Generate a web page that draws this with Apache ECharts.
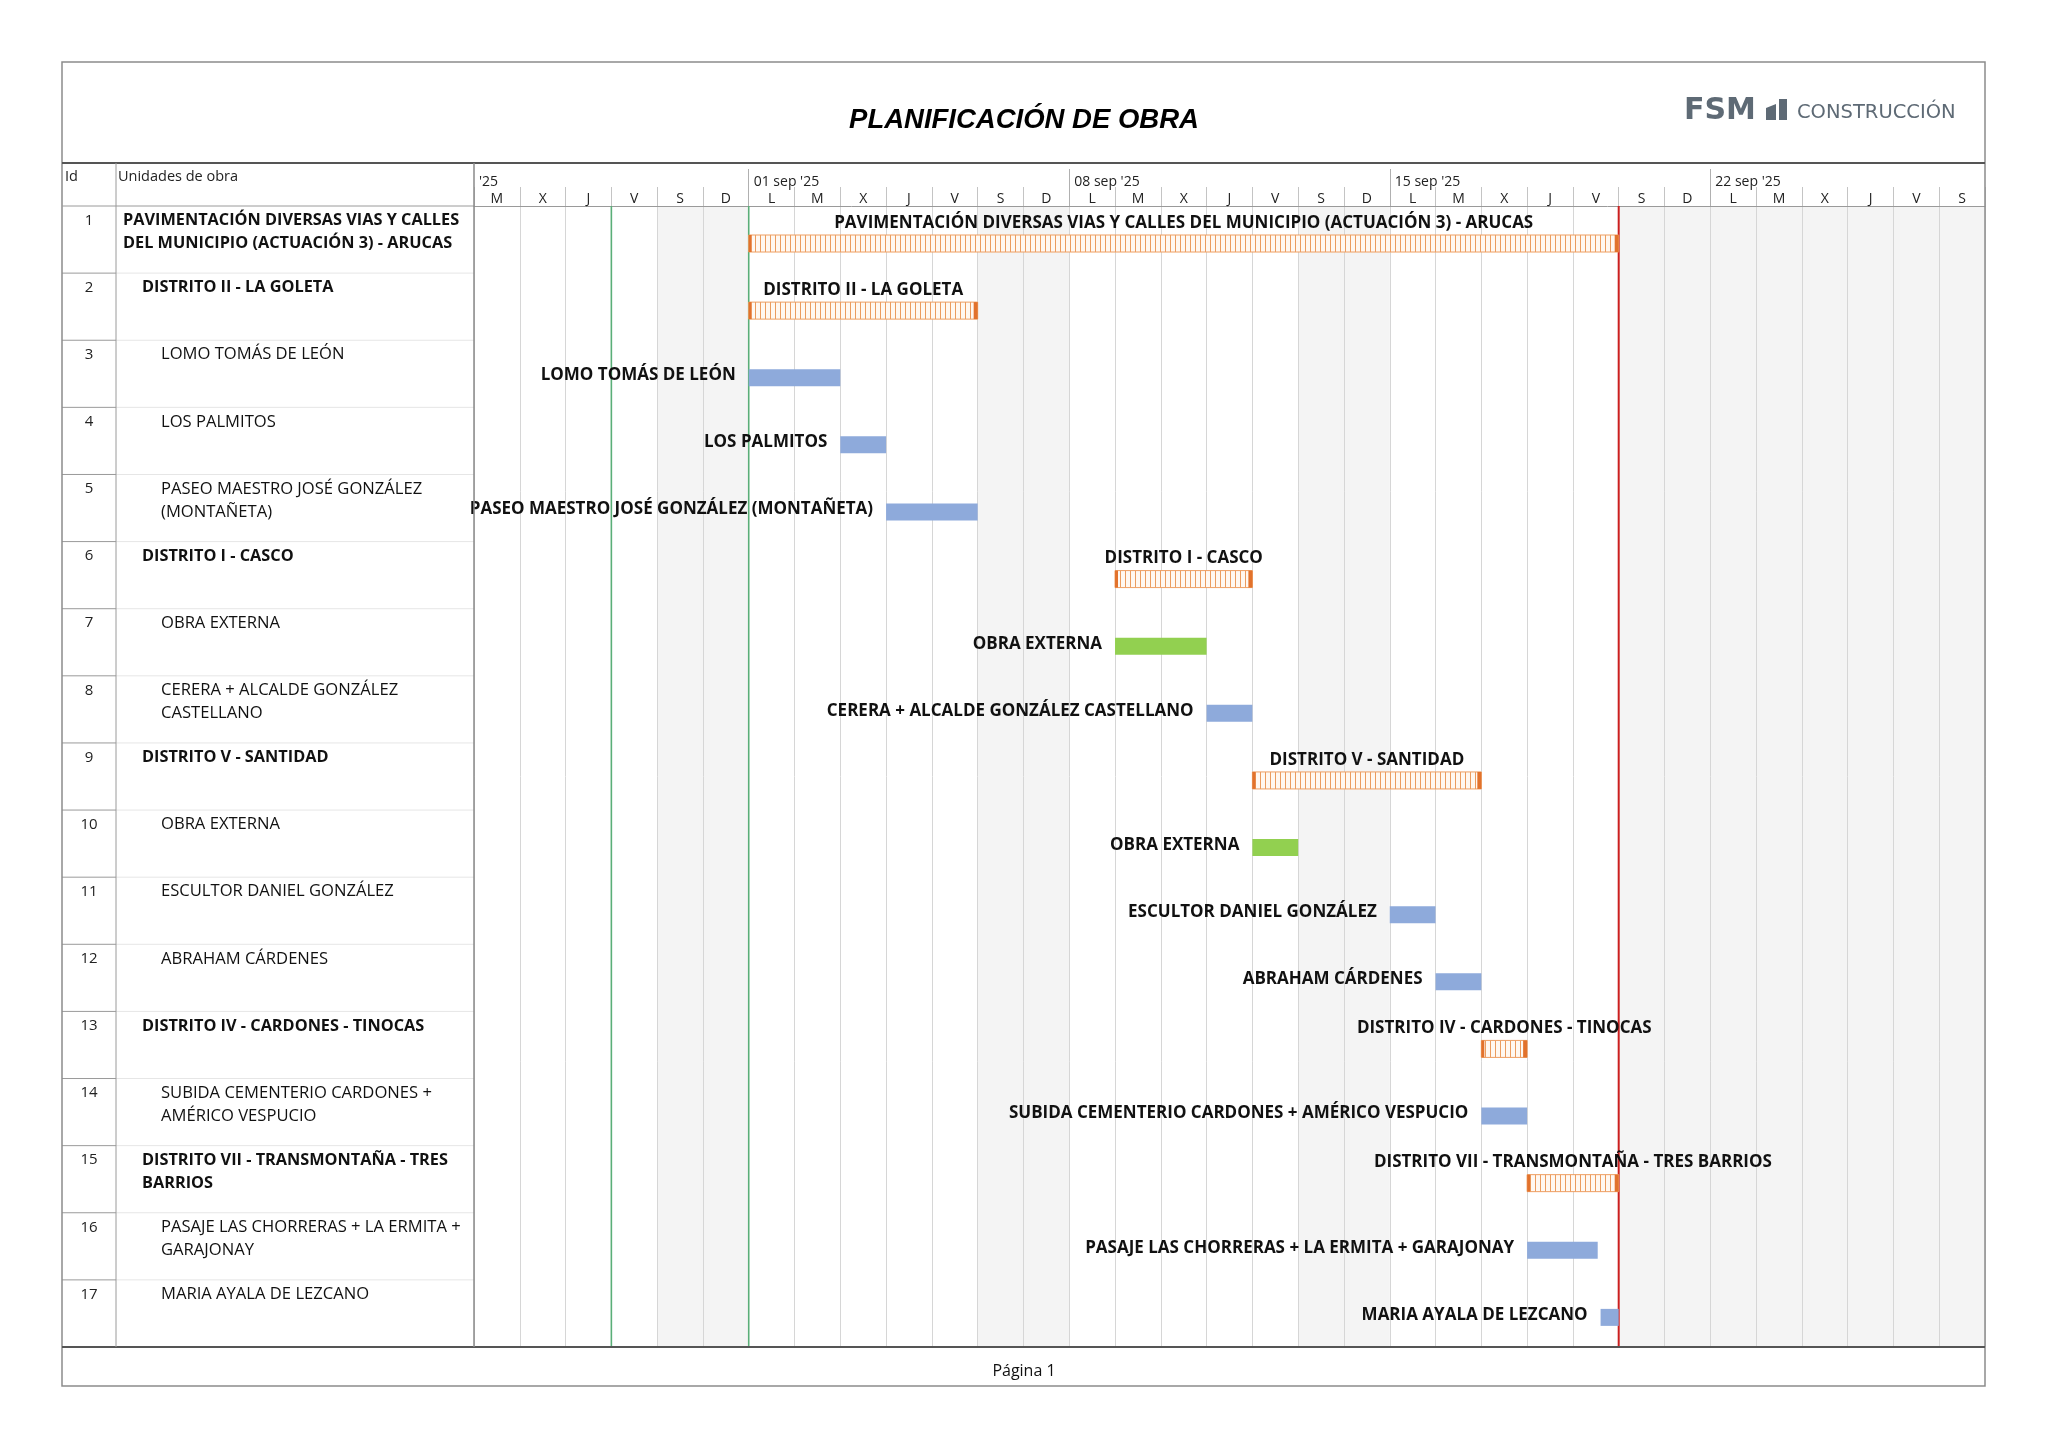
<!DOCTYPE html>
<html><head><meta charset="utf-8">
<script src="https://cdn.jsdelivr.net/npm/echarts@6/dist/echarts.min.js"></script>
<style>html,body{margin:0;padding:0;background:#fff}#c{width:2048px;height:1448px}</style>
</head><body><div id="c"></div>
<script>
// ---------------- DATA ----------------
const taskIds = [1,2,3,4,5,6,7,8,9,10,11,12,13,14,15,16,17];
const taskNames = [
  'PAVIMENTACIÓN DIVERSAS VIAS Y CALLES\nDEL MUNICIPIO (ACTUACIÓN 3) - ARUCAS',
  'DISTRITO II - LA GOLETA',
  'LOMO TOMÁS DE LEÓN',
  'LOS PALMITOS',
  'PASEO MAESTRO JOSÉ GONZÁLEZ\n(MONTAÑETA)',
  'DISTRITO I - CASCO',
  'OBRA EXTERNA',
  'CERERA + ALCALDE GONZÁLEZ\nCASTELLANO',
  'DISTRITO V - SANTIDAD',
  'OBRA EXTERNA',
  'ESCULTOR DANIEL GONZÁLEZ',
  'ABRAHAM CÁRDENES',
  'DISTRITO IV - CARDONES - TINOCAS',
  'SUBIDA CEMENTERIO CARDONES +\nAMÉRICO VESPUCIO',
  'DISTRITO VII - TRANSMONTAÑA - TRES\nBARRIOS',
  'PASAJE LAS CHORRERAS + LA ERMITA +\nGARAJONAY',
  'MARIA AYALA DE LEZCANO'
];
const taskLevels = [0,1,2,2,2,1,2,2,1,2,2,2,1,2,1,2,2];
const taskTypes = ['summary','summary','task','task','task','summary','external','task','summary','external','task','task','summary','task','summary','task','task'];
const taskStarts = ['2025-09-01 00:00','2025-09-01 00:00','2025-09-01 00:00','2025-09-03 00:00','2025-09-04 00:00',
  '2025-09-09 00:00','2025-09-09 00:00','2025-09-11 00:00','2025-09-12 00:00','2025-09-12 00:00',
  '2025-09-15 00:00','2025-09-16 00:00','2025-09-17 00:00','2025-09-17 00:00','2025-09-18 00:00',
  '2025-09-18 00:00','2025-09-19 14:30'];
const taskEnds = ['2025-09-20 00:00','2025-09-06 00:00','2025-09-03 00:00','2025-09-04 00:00','2025-09-06 00:00',
  '2025-09-12 00:00','2025-09-11 00:00','2025-09-12 00:00','2025-09-17 00:00','2025-09-13 00:00',
  '2025-09-16 00:00','2025-09-17 00:00','2025-09-18 00:00','2025-09-18 00:00','2025-09-20 00:00',
  '2025-09-19 13:00','2025-09-20 00:00'];

const timelineStart = '2025-08-26 00:00';
const timelineEnd = '2025-09-28 00:00';
const timelineDays = ['2025-08-26','2025-08-27','2025-08-28','2025-08-29','2025-08-30','2025-08-31',
  '2025-09-01','2025-09-02','2025-09-03','2025-09-04','2025-09-05','2025-09-06','2025-09-07',
  '2025-09-08','2025-09-09','2025-09-10','2025-09-11','2025-09-12','2025-09-13','2025-09-14',
  '2025-09-15','2025-09-16','2025-09-17','2025-09-18','2025-09-19','2025-09-20','2025-09-21',
  '2025-09-22','2025-09-23','2025-09-24','2025-09-25','2025-09-26','2025-09-27'];
const dayLetters = ['M','X','J','V','S','D',
  'L','M','X','J','V','S','D',
  'L','M','X','J','V','S','D',
  'L','M','X','J','V','S','D',
  'L','M','X','J','V','S'];
const weekStarts = ['2025-08-26 00:00','2025-09-01 00:00','2025-09-08 00:00','2025-09-15 00:00','2025-09-22 00:00'];
const weekLabels = ["'25","01 sep '25","08 sep '25","15 sep '25","22 sep '25"];
const weekendDays = ['2025-08-30','2025-08-31','2025-09-06','2025-09-07','2025-09-13','2025-09-14','2025-09-20','2025-09-21','2025-09-27'];
const afterProjectRange = ['2025-09-20 00:00','2025-09-28 00:00'];
const greenLines = ['2025-08-29 00:00','2025-09-01 00:00'];
const redLines = ['2025-09-20 00:00'];

// ---------------- HELPERS ----------------
function ms(s){ const p=s.split(' '); const d=p[0].split('-').map(Number); const t=(p[1]||'00:00').split(':').map(Number); return Date.UTC(d[0],d[1]-1,d[2],t[0],t[1]); }
const T0 = ms(timelineStart);
function dayOf(s){ return (ms(s)-T0)/86400000; }
const XMAX = dayOf(timelineEnd);

const FONT = '"Open Sans", "Noto Sans", sans-serif';
const pat = document.createElement('canvas'); pat.width = 5; pat.height = 4;
(function(){ const g = pat.getContext('2d'); g.fillStyle = '#fff8f1'; g.fillRect(0,0,5,4); g.fillStyle = '#eb9c5e'; g.fillRect(0,0,1,4); })();

const chart = echarts.init(document.getElementById('c'), null, {renderer:'canvas'});

function renderTable(params, api){
  const i = api.value(1);
  const cs = params.coordSys;
  const yc = api.coord([0, i])[1];
  const bh = api.size([0, 1])[1];
  const top = yc - bh/2;
  const summary = taskTypes[i] === 'summary';
  const ch = [
    {type:'text', style:{text:String(taskIds[i]), x:cs.x+27, y:top+7, align:'center', verticalAlign:'top', font:'15px '+FONT, fill:'#222'}},
    {type:'text', style:{text:taskNames[i], x:cs.x+61+taskLevels[i]*19, y:top+3, align:'left', verticalAlign:'top',
      font:(summary?'bold 16.3px ':'16.6px ')+FONT, lineHeight:23, fill:'#111'}}
  ];
  if (i < taskIds.length - 1) {
    ch.push({type:'line', shape:{x1:cs.x, y1:top+bh, x2:cs.x+54, y2:top+bh}, style:{stroke:'#9a9a9a', lineWidth:1}});
    ch.push({type:'line', shape:{x1:cs.x+54, y1:top+bh, x2:cs.x+cs.width, y2:top+bh}, style:{stroke:'#e6e6e6', lineWidth:1}});
  }
  return {type:'group', children:ch};
}

function renderBar(params, api){
  const i = api.value(0);
  const s = api.value(1), e = api.value(2);
  const p1 = api.coord([s, i]), p2 = api.coord([e, i]);
  const bh = api.size([0, 1])[1];
  const top = p1[1] - bh/2;
  const x1 = p1[0], x2 = p2[0];
  const by = top + 29, bhh = 17;
  const type = taskTypes[i];
  const label = taskNames[i].replace('\n', ' ');
  const ch = [];
  if (type === 'summary') {
    ch.push({type:'rect', shape:{x:x1, y:by, width:x2-x1, height:bhh}, style:{fill:{image:pat, repeat:'repeat'}, stroke:'#ee9f62', lineWidth:1}});
    ch.push({type:'rect', shape:{x:x1, y:by, width:3, height:bhh}, style:{fill:'#e2722c'}});
    ch.push({type:'rect', shape:{x:x2-4, y:by, width:4, height:bhh}, style:{fill:'#e2722c'}});
    ch.push({type:'text', style:{text:label, x:(x1+x2)/2, y:top+17, align:'center', verticalAlign:'middle', font:'bold 17px '+FONT, fill:'#111'}});
  } else {
    ch.push({type:'rect', shape:{x:x1, y:by, width:x2-x1, height:bhh}, style:{fill: type==='external' ? '#92d050' : '#8eaadb'}});
    ch.push({type:'text', style:{text:label, x:x1-13, y:top+35, align:'right', verticalAlign:'middle', font:'bold 17px '+FONT, fill:'#111'}});
  }
  return {type:'group', children:ch};
}

function renderShade(params, api){
  const cs = params.coordSys;
  const a = api.coord([api.value(0), 0])[0], b = api.coord([api.value(1), 0])[0];
  return {type:'rect', shape:{x:a, y:cs.y, width:b-a, height:cs.height}, style:{fill:'#f4f4f4'}};
}

function renderVLine(params, api){
  const cs = params.coordSys;
  const x = api.coord([api.value(0), 0])[0];
  const red = api.value(1) === 1;
  return {type:'line', shape:{x1:x, y1:cs.y, x2:x, y2:cs.y+cs.height},
    style:{stroke: red ? '#cc1f1f' : '#5aae78', lineWidth: red ? 2 : 1.6}};
}

const shadeData = weekendDays.map(d => [dayOf(d+' 00:00'), dayOf(d+' 00:00')+1])
  .concat([[dayOf(afterProjectRange[0]), dayOf(afterProjectRange[1])]]);
const vlineData = greenLines.map(d => [dayOf(d), 0]).concat(redLines.map(d => [dayOf(d), 1]));
const weekVals = weekStarts.map(dayOf);

const option = {
  backgroundColor:'#fff',
  animation:false,
  title:[
    {text:'PLANIFICACIÓN DE OBRA', left:'center', top:102,
      textStyle:{fontFamily:'"Liberation Sans", Arial, sans-serif', fontStyle:'italic', fontWeight:'bold', fontSize:27.5, color:'#000'}},
    {text:'Página 1', left:'center', top:1358, textStyle:{fontFamily:FONT, fontWeight:'normal', fontSize:16, color:'#111'}}
  ],
  grid:[
    {left:62, top:206, width:412, height:1141, show:false},
    {left:474, top:206, width:1511, height:1141, show:false}
  ],
  xAxis:[
    {gridIndex:0, type:'value', min:0, max:1, show:false},
    {gridIndex:1, type:'value', min:0, max:XMAX, interval:1, position:'bottom',
      axisLine:{show:false}, axisTick:{show:false}, axisLabel:{show:false},
      splitLine:{show:true, lineStyle:{color:'#d6d6d6', width:1}}},
    {gridIndex:1, type:'category', data:timelineDays, boundaryGap:true, position:'top',
      axisLine:{show:true, lineStyle:{color:'#9a9a9a'}},
      axisTick:{show:true, interval:0, length:19, lineStyle:{color:'#c4c4c4'}},
      axisLabel:{interval:0, margin:7, verticalAlign:'middle', fontFamily:FONT, fontSize:14, color:'#222',
        formatter:(v, idx) => dayLetters[idx]}},
    {gridIndex:1, type:'value', min:0, max:XMAX, position:'top',
      axisLine:{show:false}, splitLine:{show:false},
      axisTick:{show:true, length:37, customValues:weekVals.slice(1), lineStyle:{color:'#b0b0b0'}},
      axisLabel:{show:true, customValues:weekVals, align:'left', margin:24, verticalAlign:'middle', padding:[0,0,0,5],
        fontFamily:FONT, fontSize:14, color:'#222',
        formatter:(v) => weekLabels[weekVals.indexOf(v)]}}
  ],
  yAxis:[
    {gridIndex:0, type:'category', data:taskIds.map(String), inverse:true, show:false},
    {gridIndex:1, type:'category', data:taskIds.map(String), inverse:true, show:false}
  ],
  series:[
    {type:'custom', name:'shade', xAxisIndex:1, yAxisIndex:1, z:-1, silent:true,
      encode:{x:[0,1]}, data:shadeData, renderItem:renderShade},
    {type:'custom', name:'table', xAxisIndex:0, yAxisIndex:0, silent:true,
      encode:{x:0, y:1}, data:taskIds.map((_, i) => [0, i]), renderItem:renderTable},
    {type:'custom', name:'vlines', xAxisIndex:1, yAxisIndex:1, z:3, silent:true,
      encode:{x:0}, data:vlineData, renderItem:renderVLine},
    {type:'custom', name:'gantt', xAxisIndex:1, yAxisIndex:1, z:4, silent:true,
      encode:{y:0, x:[1,2]}, data:taskIds.map((_, i) => [i, dayOf(taskStarts[i]), dayOf(taskEnds[i])]), renderItem:renderBar}
  ],
  graphic:[
    {type:'rect', shape:{x:62, y:62, width:1923, height:1324}, style:{fill:'none', stroke:'#8c8c8c', lineWidth:1.5}, z:10},
    {type:'line', shape:{x1:62, y1:163, x2:1985, y2:163}, style:{stroke:'#555', lineWidth:2}, z:10},
    {type:'line', shape:{x1:62, y1:206, x2:474, y2:206}, style:{stroke:'#9a9a9a', lineWidth:1}, z:10},
    {type:'line', shape:{x1:62, y1:1347, x2:1985, y2:1347}, style:{stroke:'#555', lineWidth:2}, z:10},
    {type:'line', shape:{x1:116, y1:163, x2:116, y2:1347}, style:{stroke:'#9a9a9a', lineWidth:1}, z:10},
    {type:'line', shape:{x1:474, y1:163, x2:474, y2:1347}, style:{stroke:'#8a8a8a', lineWidth:1.5}, z:10},
    {type:'text', style:{text:'Id', x:65, y:177, verticalAlign:'middle', font:'14.5px '+FONT, fill:'#222'}, z:10},
    {type:'text', style:{text:'Unidades de obra', x:118, y:177, verticalAlign:'middle', font:'14.5px '+FONT, fill:'#222'}, z:10},
    {type:'text', style:{text:'FSM', x:1684, y:111, verticalAlign:'middle', font:'bold 30px "DejaVu Sans", sans-serif', fill:'#5e6a75'}, z:10},
    {type:'polygon', shape:{points:[[1766,108],[1776,104],[1776,120],[1766,120]]}, style:{fill:'#5e6a75'}, z:10},
    {type:'rect', shape:{x:1779, y:99, width:8, height:21}, style:{fill:'#5e6a75'}, z:10},
    {type:'text', style:{text:'CONSTRUCCIÓN', x:1797, y:113, verticalAlign:'middle', font:'19.5px "DejaVu Sans", sans-serif', fill:'#5e6a75'}, z:10}
  ]
};
chart.setOption(option);
</script>
</body></html>
